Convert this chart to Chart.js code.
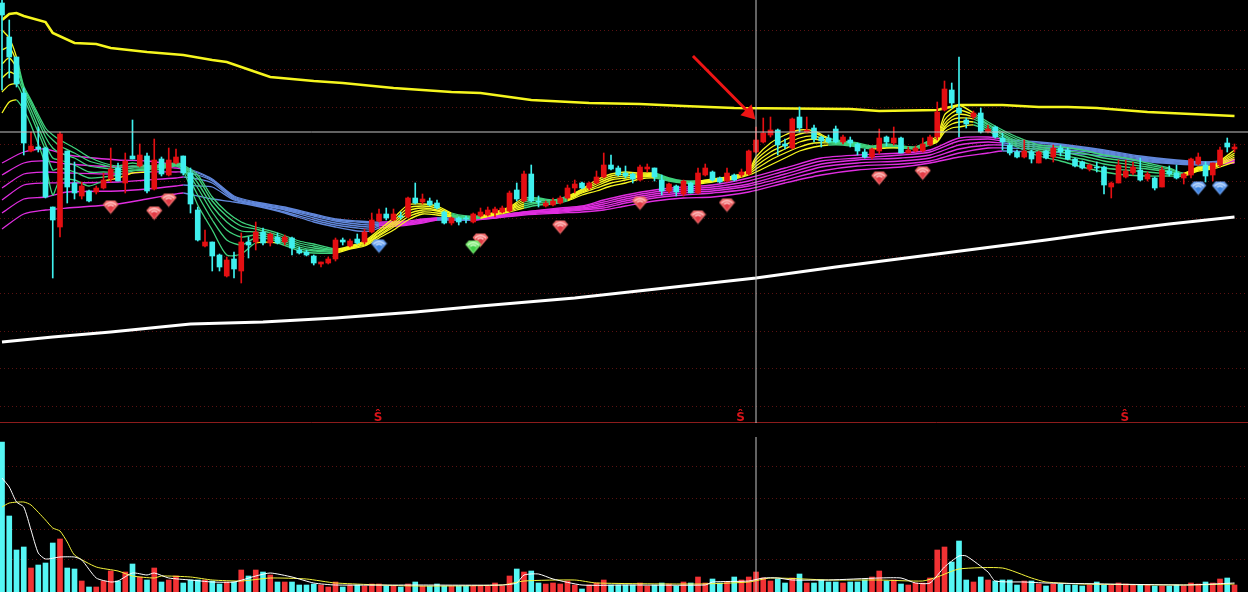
<!DOCTYPE html>
<html><head><meta charset="utf-8">
<style>html,body{margin:0;padding:0;background:#000;overflow:hidden}canvas{display:block}</style>
<script src="https://cdn.jsdelivr.net/npm/chart.js@4"></script>
</head><body><canvas id="c" width="1248" height="592"></canvas>
<script>
// Candles, one row per session. The price axis is unlabelled in the source, so units are arbitrary.
const opens=[420,386,366,330,272,276,275,216,196,272,240,227,232,231,235,244,255,240,267,257,267,234,264,248,260,267,250,213,177,181,168,147,164,152,181,181,191,180,186,181,185,173,171,167,159,160,164,183,177,184,181,191,202,209,203,207,206,225,221,222,220,211,200,205,205,201,207,208,210,211,212,233,222,249,222,217,218,220,225,235,240,235,240,246,258,255,250,249,243,254,255,243,232,237,229,240,230,248,251,245,242,248,248,249,271,281,288,293,279,275,306,291,295,286,285,294,281,283,279,271,266,272,286,280,285,270,272,272,278,286,313,333,315,303,306,310,291,296,285,278,271,266,271,260,272,266,275,273,264,261,254,256,256,236,240,246,250,253,244,245,236,252,250,245,248,259,258,248,258,280,274];
const closes=[408,366,339,280,277,274,226,203,289,236,230,237,222,235,243,254,242,262,264,268,232,263,249,263,266,250,219,183,181,167,156,163,154,181,178,191,180,189,180,186,175,170,168,160,161,164,183,181,182,180,191,203,209,205,209,206,225,220,224,218,215,200,205,201,204,209,211,213,214,215,230,224,249,222,221,220,222,225,235,239,235,240,246,258,254,248,247,244,256,256,246,232,239,231,242,230,250,255,243,241,250,243,251,272,283,290,293,278,277,304,295,293,284,282,281,281,286,280,272,266,274,285,281,285,270,273,275,279,286,311,334,320,310,299,310,291,294,286,281,270,266,272,264,271,265,275,271,264,257,255,258,255,238,240,258,252,256,243,249,235,253,249,245,249,264,266,247,260,273,276,276];
const highs=[423,403,366,335,291,296,276,216,291,272,261,241,233,237,250,275,260,270,303,279,270,284,266,275,274,267,255,216,193,181,169,166,171,190,186,201,195,190,190,188,186,176,173,168,161,166,185,185,184,189,194,210,214,215,214,211,226,240,229,225,223,212,206,206,207,210,215,216,216,217,232,240,252,258,227,222,225,227,238,243,241,241,252,270,268,257,257,250,258,259,255,248,240,238,243,241,255,259,252,246,255,249,254,273,296,305,306,294,284,305,316,306,298,287,288,297,288,286,280,274,275,294,287,296,286,276,277,285,288,321,342,340,366,305,312,315,298,297,290,280,273,283,273,272,273,278,278,275,265,262,259,261,257,241,263,263,261,265,251,246,256,257,258,250,265,270,261,260,276,285,279];
const lows=[333,345,336,268,271,271,225,145,186,220,224,224,221,229,234,241,242,230,264,256,230,233,247,247,259,248,210,182,176,152,152,146,145,140,165,173,178,177,179,178,168,169,167,158,156,159,162,178,176,179,179,190,201,203,202,204,205,219,219,217,214,199,198,198,200,200,206,207,206,210,211,222,221,221,216,216,217,219,224,230,234,233,239,245,253,247,245,240,242,251,242,228,230,227,227,230,229,247,242,240,241,242,246,248,270,280,286,268,274,274,291,290,281,276,280,280,279,276,268,265,264,269,277,278,270,270,271,271,277,283,312,315,286,295,304,290,290,285,273,268,265,265,260,260,264,261,267,263,256,254,252,251,229,225,240,245,248,242,242,233,236,247,244,239,245,258,241,242,256,271,271];
// Volume per session (direction comes from the candles)
const volumes=[150,76,42,45,24,27,29,49,53,24,23,11,5,5,11,21,11,20,28,15,12,24,10,12,16,9,12,12,12,11,8,10,10,22,16,22,20,17,10,10,10,7,7,8,7,5,10,5,7,7,6,8,8,6,6,5,8,10,6,6,8,6,6,6,6,6,6,6,9,6,16,23,20,21,9,8,9,8,11,7,3,7,9,12,7,7,7,7,9,6,7,9,8,6,10,9,15,9,13,9,10,15,12,15,20,14,11,13,9,14,18,9,9,12,10,10,9,10,10,12,15,21,11,12,8,7,9,9,14,42,45,30,51,12,10,15,12,11,12,12,7,11,11,8,6,8,8,7,7,6,7,10,7,7,9,8,7,7,7,6,6,6,7,6,9,8,10,9,13,14,7];
// Long moving averages, [session, value]
const yellowMA=[[0,403],[1,409],[2,410],[3,407],[6,401],[7,390],[10,380],[13,379],[15,375],[20,371],[25,368],[29,363],[31,361],[35,351],[37,346],[43,342],[47,340],[54,335],[62,331],[66,330],[68,328],[73,323],[81,320],[88,319],[94,317],[101,315],[117,314],[121,312],[129,313],[132,318],[138,318],[143,316],[147,316],[151,315],[158,311],[164,309],[170,307]];
const whiteMA=[[0,81],[7,86],[15,91],[26,99],[36,101],[46,105],[57,111],[66,117],[79,125],[89,133],[104,145],[115,156],[144,183],[152,191],[161,199],[170,206]];
// Volume moving averages, [session, value]
const volFast=[[0,114],[1,105],[2,90],[3,85],[4,62],[5,39],[6,33],[8,35],[10,35],[11,32],[13,14],[15,10],[16,11],[18,19],[20,17],[21,19],[23,14],[26,12],[29,10],[32,10],[35,16],[37,19],[40,15],[43,9],[46,7],[57,7],[69,7],[71,9],[72,17],[74,18],[76,13],[80,7],[86,7],[97,7],[98,10],[103,11],[105,14],[107,14],[109,12],[114,12],[121,14],[124,14],[126,9],[128,9],[130,25],[132,36],[133,36],[136,20],[137,11],[141,10],[144,9],[163,7],[167,8],[170,9]];
const volSlow=[[0,85],[1,89],[3,90],[4,87],[6,72],[7,64],[8,61],[9,50],[10,37],[13,25],[16,21],[18,16],[21,14],[22,16],[26,15],[29,12],[33,11],[37,14],[42,13],[46,9],[57,6],[69,7],[72,11],[79,12],[82,9],[96,8],[103,10],[106,14],[114,12],[121,12],[127,11],[129,15],[132,23],[138,24],[142,14],[144,10],[149,8],[163,7],[170,8]];
// Short ribbon: session, then six averages
const shortRibbon=[[0,393,373,359,345,331,310],[1,385,376,365,351,338,321],[2,366,361,355,347,339,323],[3,337,335,333,330,325,313],[4,323,321,318,313,308,298],[6,295,291,286,279,273,258],[7,288,283,275,265,253,228],[8,283,277,270,263,255,243],[10,275,270,265,258,251,243],[12,266,262,257,251,245,237],[14,260,258,255,251,246,242],[16,257,255,253,251,248,245],[18,260,257,255,253,252,250],[20,257,256,255,254,253,251],[24,260,259,259,258,258,257],[25,258,257,257,256,255,252],[27,248,245,240,235,228,218],[29,226,222,217,211,203,193],[31,211,207,201,193,183,168],[33,201,197,192,186,178,169],[35,196,194,191,188,185,180],[38,190,188,186,184,182,180],[41,182,180,178,176,174,172],[43,179,177,175,173,172,170],[46,174,173,173,172,171,170],[48,177,176,176,175,175,174],[50,182,181,180,179,178,177],[52,193,191,190,188,187,185],[54,205,202,200,198,196,193],[56,218,215,212,209,206,203],[58,219,217,215,213,211,209],[60,217,215,213,212,210,208],[62,210,209,208,207,207,206],[64,207,206,206,205,205,204],[66,207,207,206,206,205,205],[68,211,210,210,209,209,208],[70,216,215,214,213,212,211],[72,225,223,221,219,217,215],[74,225,224,223,221,220,218],[76,223,222,222,221,220,219],[78,227,226,225,224,223,222],[80,234,233,232,231,230,228],[82,243,241,239,237,235,232],[84,249,247,245,243,240,237],[86,251,249,247,245,243,240],[88,250,249,248,247,246,244],[90,250,249,248,247,246,245],[92,245,244,244,243,243,242],[94,242,242,241,241,240,240],[96,242,242,241,241,240,239],[98,244,243,243,242,242,241],[101,247,247,246,246,245,244],[103,253,252,251,250,249,248],[104,266,263,260,257,254,251],[106,280,275,271,267,263,258],[108,288,283,278,274,270,265],[110,293,289,285,281,276,272],[112,292,290,287,284,280,276],[114,285,284,282,281,280,278],[116,282,281,280,280,279,278],[118,280,279,278,278,277,276],[120,277,276,276,275,275,274],[122,279,278,278,277,276,275],[124,277,277,276,276,275,275],[126,276,276,275,275,275,274],[128,283,282,281,280,279,278],[129,287,285,284,283,282,281],[130,308,303,299,296,294,291],[131,314,310,306,303,299,295],[132,318,313,309,305,301,296],[134,310,308,306,304,301,298],[136,301,299,298,296,294,292],[138,293,291,289,288,286,284],[140,286,284,282,280,278,276],[143,278,276,274,272,270,267],[146,276,273,271,268,265,262],[149,273,270,267,264,261,256],[152,268,265,262,259,255,251],[155,265,262,259,256,253,248],[158,260,258,256,254,251,247],[161,255,254,252,251,249,247],[163,250,249,249,248,248,247],[165,256,255,255,254,253,252],[167,257,257,256,256,255,254],[168,262,261,260,259,258,256],[170,273,270,268,266,264,261]];
// Long ribbon: session, then six averages
const longRibbon=[[0,260,248,235,223,210,194],[3,271,260,249,238,224,209],[6,274,262,251,240,226,213],[9,268,259,250,240,231,215],[16,263,256,249,241,232,219],[20,262,257,251,243,234,224],[24,258,255,251,245,237,229],[25,256,254,251,246,238,230],[27,251,250,248,244,237,227],[29,244,243,242,240,236,224],[32,227,226,225,224,223,221],[35,221,220,219,219,218,217],[39,216,215,214,213,211,210],[43,209,208,207,205,203,201],[46,204,203,202,200,198,196],[49,202,201,199,197,195,192],[51,201,200,198,196,194,192],[52,201,200,199,198,197,195],[56,202,201,200,199,199,198],[58,204,203,203,202,201,200],[60,205,205,204,204,203,203],[62,205,204,204,204,203,203],[65,204,204,204,203,203,203],[68,207,207,206,206,205,205],[72,211,211,210,210,209,208],[77,215,214,213,212,211,210],[80,217,216,215,214,213,211],[83,223,221,219,217,215,213],[86,228,226,224,222,220,217],[90,233,231,229,227,225,222],[94,236,234,232,230,228,225],[98,238,236,234,232,230,226],[103,245,242,239,237,234,231],[108,255,252,249,246,243,240],[113,265,262,259,256,252,248],[118,268,265,263,260,257,253],[124,270,268,265,262,259,256],[128,273,271,268,265,262,260],[132,285,282,278,274,270,266],[136,286,284,281,278,275,270],[138,284,282,280,278,275,272],[143,281,280,278,276,274,271],[147,278,277,276,275,273,270],[152,273,272,271,270,269,267],[157,267,266,265,264,263,262],[162,263,262,262,261,260,259],[166,261,261,260,260,259,258],[168,262,261,261,260,260,259],[170,264,263,263,262,261,260]];
// Session ranges in which each ribbon turns colour
const shortUpZones=[[0,2],[46,61],[65,72],[78,89],[96,113],[128,133],[163,170]];
const fastOnlyUpZones=[[14,19],[22,24],[34,36],[120,123]];
const longDownZones=[[25,52],[60,65],[137,164],[166,168]];
// Signal gems: session, value
const redGems=[[15,216],[21,210],[23,223],[66,183],[77,196],[88,220],[96,206],[100,218],[121,245],[127,250]];
const blueGems=[[52,177],[165,235],[168,235]];
const greenGems=[[65,176]];
const signalMarks=[[52,7],[102,7],[155,7]];
const signalLabel='Ŝ';
const priceGrid=[392,354,316,279,241,204,166,129,91,54,16];
const volumeGrid=[125,93,63,33];
const crossSession=104, crossPrice=291;
const arrowShaft=[[95.3,367],[102.8,312]], arrowHead=[[103.05,310]];

const xy=r=>r.map(p=>({x:p[0],y:p[1]}));
const inZone=(zones,x)=>zones.some(z=>x>=z[0]&&x<z[1]);
const UP='#e40f12',DOWN='#3ff0ee',VUP='#f23234',VDOWN='#55f6f4';

function gem(col,light,dark){
  const c=document.createElement('canvas');c.width=17;c.height=15;const g=c.getContext('2d');
  g.fillStyle=col;g.beginPath();g.moveTo(4,1);g.lineTo(13,1);g.lineTo(16.5,5);g.lineTo(8.5,14.5);g.lineTo(.5,5);g.closePath();g.fill();
  g.fillStyle=dark;g.beginPath();g.moveTo(4,6);g.lineTo(13,6);g.lineTo(8.5,13);g.closePath();g.fill();
  g.strokeStyle=light;g.lineWidth=1.2;g.beginPath();g.moveTo(3,5.5);g.quadraticCurveTo(8.5,.5,14,5.5);g.moveTo(5.5,7);g.quadraticCurveTo(8.5,4,11.5,7);g.stroke();
  return c;
}
const gemRed=gem('#ef6a6a','#ffd0d0','#e23b45'),gemBlue=gem('#6a9ff0','#cfe6ff','#3d84e0'),gemGreen=gem('#79e66f','#d5ffd0','#3fd04a');

const sessions=opens.map((_,i)=>i);
const isUp=i=>closes[i]>=opens[i];
const barColor=(up,down)=>c=>isUp(c.dataIndex)?up:down;
const ds=[];
const line=(data,axis,color,width,order,extra)=>Object.assign({type:'line',data:xy(data),yAxisID:axis,borderColor:color,borderWidth:width,pointRadius:0,order,tension:0,fill:false},extra||{});

ds.push(line([[-1,0.5],[173,0.5]],'y','#8c1c1c',1,60));
ds.push(line([[-1,crossPrice],[173,crossPrice]],'y','#c4c4c4',1,9));
ds.push(line([[crossSession,0],[crossSession,423]],'y','#c4c4c4',1,9));
ds.push(line([[crossSession,0],[crossSession,155]],'yv','#c4c4c4',1,9));
ds.push(line(yellowMA,'y','#f6f61e',2.6,30));
ds.push(line(whiteMA,'y','#ffffff',3,30));
for(let k=1;k<=6;k++){
  ds.push(line(longRibbon.map(r=>[r[0],r[k]]),'y','#e02de0',1.3,25,{tension:.25,
    segment:{borderColor:c=>inZone(longDownZones,c.p0.parsed.x)?'#6288dc':'#e02de0'}}));
}
for(let k=1;k<=6;k++){
  ds.push(line(shortRibbon.map(r=>[r[0],r[k]]),'y','#3fd27c',1.3,k===6?19:20,{tension:.25,
    segment:{borderColor:c=>(inZone(shortUpZones,c.p0.parsed.x)||(k===6&&inZone(fastOnlyUpZones,c.p0.parsed.x)))?'#f8f820':'#3fd27c'}}));
}
ds.push({type:'bar',yAxisID:'y',order:11,barThickness:1,data:sessions.map(i=>({x:i,y:[lows[i],highs[i]]})),backgroundColor:barColor(UP,DOWN)});
ds.push({type:'bar',yAxisID:'y',order:10,barThickness:5,data:sessions.map(i=>({x:i,y:[opens[i],closes[i]]})),backgroundColor:barColor(UP,DOWN)});
ds.push({type:'bar',yAxisID:'yv',order:10,barThickness:5,data:sessions.map(i=>({x:i,y:volumes[i]})),backgroundColor:barColor(VUP,VDOWN)});
ds.push(line(volSlow,'yv','#f4f43c',1,5,{tension:.2}));
ds.push(line(volFast,'yv','#ffffff',1,4,{tension:.2}));
const gems=(data,img,order)=>({type:'scatter',data:xy(data),yAxisID:'y',pointStyle:img,pointRadius:8,showLine:false,order});
ds.push(gems(redGems,gemRed,3));
ds.push(gems(blueGems,gemBlue,3));
ds.push(gems(greenGems,gemGreen,2));
ds.push(line(arrowShaft,'y','#ee1414',3,1));
ds.push({type:'scatter',data:xy(arrowHead),yAxisID:'y',pointStyle:'triangle',pointRadius:9,pointRotation:136,backgroundColor:'#ee1414',borderColor:'#ee1414',borderWidth:0,showLine:false,order:1});

const signalText={id:'signalText',afterDatasetsDraw(ch){
  const g=ch.ctx;g.save();g.fillStyle='#d8141a';g.font='bold 12px "DejaVu Sans"';g.textAlign='center';g.textBaseline='alphabetic';
  signalMarks.forEach(m=>g.fillText(signalLabel,ch.scales.x.getPixelForValue(m[0])-1,ch.scales.y.getPixelForValue(m[1])+5));
  g.restore();
}};
const gridOpts={color:'#5a1212',lineWidth:1,drawTicks:false};
const yScale=(min,max,weight,vals)=>({type:'linear',position:'left',stack:'panes',stackWeight:weight,min,max,
  border:{display:false,dash:[1,3]},grid:gridOpts,ticks:{display:false},
  afterBuildTicks:a=>{a.ticks=vals.map(v=>({value:v}));}});
new Chart(document.getElementById('c'),{
  type:'line',data:{datasets:ds},plugins:[signalText],
  options:{responsive:false,animation:false,devicePixelRatio:1,
    layout:{padding:0,autoPadding:false},
    datasets:{bar:{grouped:false,borderWidth:0}},
    plugins:{legend:{display:false},tooltip:{enabled:false},title:{display:false}},
    scales:{
      x:{type:'linear',display:false,offset:false,min:-2/7.25,max:(1248-2)/7.25},
      yv:yScale(0,169,169,volumeGrid),
      y:yScale(0,423,423,priceGrid)
    }}
});
</script></body></html>
